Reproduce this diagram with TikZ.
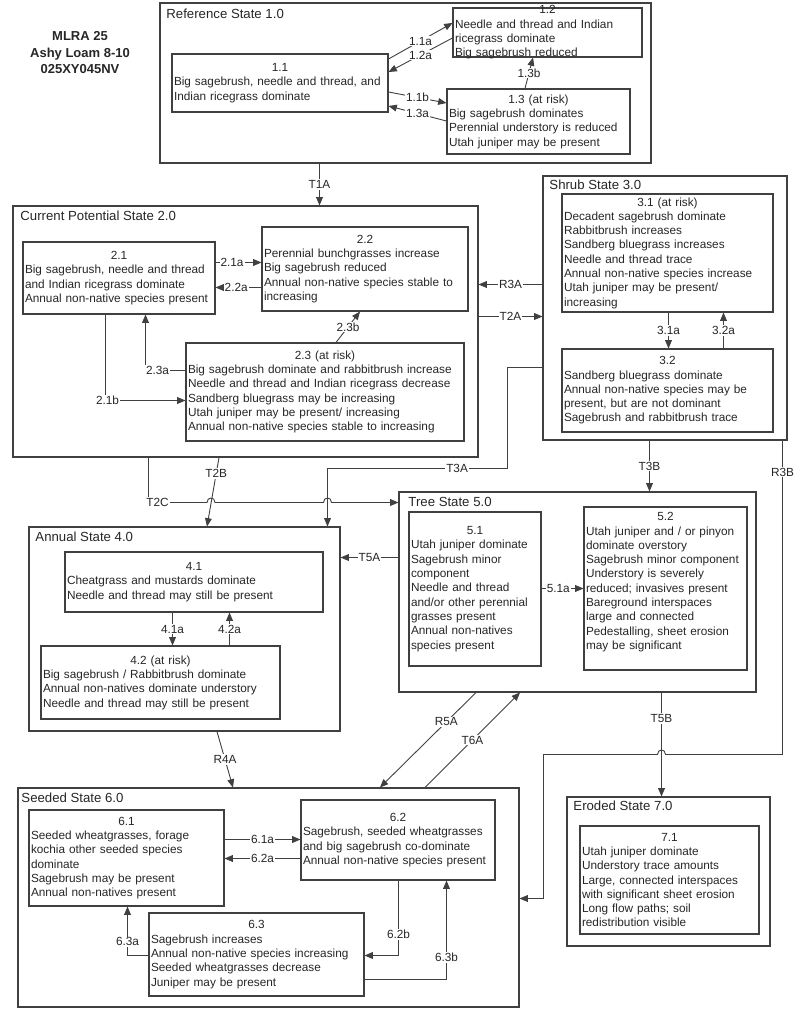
\documentclass[tikz,border=0pt]{standalone}
\usepackage{fontspec}
\setmainfont{Liberation Sans}
\usepackage{tikz}
\usetikzlibrary{
    arrows
}
\setlength{\parindent}{0pt}
\newcommand{\hd}[1]{{\centering #1\par}}

\begin{document}
\begin{tikzpicture}[x=1pt,y=-1pt,->,>=triangle 45,line width=0.9pt,black!75]
    \tikzstyle{stbox}=[draw, line width=1.1pt, inner sep=0pt]
    \tikzstyle{stlbl}=[anchor=west, inner sep=0pt, text=black!85, font=\fontsize{13.2}{15}\selectfont]
    \tikzstyle{sub}=[draw, line width=1.1pt, align=left, inner xsep=2pt, inner ysep=1pt, text=black!85, font=\fontsize{11.8}{14.3}\selectfont]
    \tikzstyle{lbl}=[fill=white, inner sep=1pt, text=black!85, font=\fontsize{11.8}{14}\selectfont]
    \useasboundingbox (0,0) rectangle (800,1009);

    \node[align=center, text=black!85, font=\bfseries\fontsize{13}{16.5}\selectfont] (head) at (80,53) {MLRA 25\\Ashy Loam 8-10\\025XY045NV};

    % states
    \node[stbox, minimum width=491pt, minimum height=160pt] (ref) at (405.5,83) {};
    \node[stlbl] (refl) at (166,14) {Reference State 1.0};
    \node[stbox, minimum width=465pt, minimum height=251pt] (cur) at (245.5,331.5) {};
    \node[stlbl] (curl) at (20,216) {Current Potential State 2.0};
    \node[stbox, minimum width=244pt, minimum height=264pt] (shrub) at (665,308) {};
    \node[stlbl] (shrubl) at (549,185) {Shrub State 3.0};
    \node[stbox, minimum width=311pt, minimum height=204pt] (annual) at (184.5,629) {};
    \node[stlbl] (annuall) at (35,537) {Annual State 4.0};
    \node[stbox, minimum width=357pt, minimum height=200pt] (tree) at (577.5,592) {};
    \node[stlbl] (treel) at (408,502) {Tree State 5.0};
    \node[stbox, minimum width=501pt, minimum height=219pt] (seeded) at (268.5,897.5) {};
    \node[stlbl] (seededl) at (21,798) {Seeded State 6.0};
    \node[stbox, minimum width=203pt, minimum height=149pt] (eroded) at (668.5,871.5) {};
    \node[stlbl] (erodedl) at (573,806) {Eroded State 7.0};

    % community phases
    \node[sub, text width=212pt, minimum height=58pt] (b11) at (280,83) {\hd{1.1}Big sagebrush, needle and thread, and\\Indian ricegrass dominate};
    \node[sub, text width=185pt, minimum height=49pt, inner ysep=-2.5pt] (b12) at (547.5,32.5) {\hd{1.2}Needle and thread and Indian\\ricegrass dominate\\Big sagebrush reduced};
    \node[sub, text width=179pt, minimum height=65pt] (b13) at (538.5,121.5) {\hd{1.3 (at risk)}Big sagebrush dominates\\Perennial understory is reduced\\Utah juniper may be present};
    \node[sub, text width=188pt, minimum height=72pt] (b21) at (119,278) {\hd{2.1}Big sagebrush, needle and thread\\and Indian ricegrass dominate\\Annual non-native species present};
    \node[sub, text width=202pt, minimum height=84pt] (b22) at (365,269) {\hd{2.2}Perennial bunchgrasses increase\\Big sagebrush reduced\\Annual non-native species stable to\\increasing};
    \node[sub, text width=274pt, minimum height=98pt] (b23) at (325,392) {\hd{2.3 (at risk)}Big sagebrush dominate and rabbitbrush increase\\Needle and thread and Indian ricegrass decrease\\Sandberg bluegrass may be increasing\\Utah juniper may be present/ increasing\\Annual non-native species stable to increasing};
    \node[sub, text width=207pt, minimum height=118pt] (b31) at (667.5,253) {\hd{3.1 (at risk)}Decadent sagebrush dominate\\Rabbitbrush increases\\Sandberg bluegrass increases\\Needle and thread trace\\Annual non-native species increase\\Utah juniper may be present/\\increasing};
    \node[sub, text width=207pt, minimum height=83pt] (b32) at (667.5,390.5) {\hd{3.2}Sandberg bluegrass dominate\\Annual non-native species may be\\present, but are not dominant\\Sagebrush and rabbitbrush trace};
    \node[sub, text width=254pt, minimum height=60pt] (b41) at (194,582) {\hd{4.1}Cheatgrass and mustards dominate\\Needle and thread may still be present};
    \node[sub, text width=235pt, minimum height=73pt] (b42) at (160.5,682.5) {\hd{4.2 (at risk)}Big sagebrush / Rabbitbrush dominate\\Annual non-natives dominate understory\\Needle and thread may still be present};
    \node[sub, text width=128pt, minimum height=154pt] (b51) at (475,589) {\hd{5.1}Utah juniper dominate\\Sagebrush minor\\component\\Needle and thread\\and/or other perennial\\grasses present\\Annual non-natives\\species present};
    \node[sub, minimum width=163pt, minimum height=163pt] (b52) at (665.5,588.5) {};
    \node[sub, draw=none, text width=159pt, anchor=north] (t52) at (665.5,511) {\hd{5.2}Utah juniper and / or pinyon\\dominate overstory\\Sagebrush minor component\\Understory is severely\\reduced; invasives present\\Bareground interspaces\\large and connected\\Pedestalling, sheet erosion\\may be significant};
    \node[sub, text width=191pt, minimum height=96pt] (b61) at (126.5,858) {\hd{6.1}Seeded wheatgrasses, forage\\kochia other seeded species\\dominate\\Sagebrush may be present\\Annual non-natives present};
    \node[sub, text width=190pt, minimum height=80pt] (b62) at (398,840) {\hd{6.2}Sagebrush, seeded wheatgrasses\\and big sagebrush co-dominate\\Annual non-native species present};
    \node[sub, text width=211pt, minimum height=83pt] (b63) at (256.5,954.5) {\hd{6.3}Sagebrush increases\\Annual non-native species increasing\\Seeded wheatgrasses decrease\\Juniper may be present};
    \node[sub, text width=175pt, minimum height=108pt] (b71) at (669.5,880) {\hd{7.1}Utah juniper dominate\\Understory trace amounts\\Large, connected interspaces\\with significant sheet erosion\\Long flow paths; soil\\redistribution visible};

    % pathways inside states
    \path (b11.east |- 0,59) edge node[lbl] {1.1a} (b12.west |- 0,23);
    \path (b12.west |- 0,38) edge node[lbl] {1.2a} (b11.east |- 0,72);
    \path (b11.east |- 0,92) edge node[lbl] {1.1b} (b13.west |- 0,103);
    \path (b13.west |- 0,121) edge node[lbl] {1.3a} (b11.east |- 0,106);
    \path (b13.north -| 525,0) edge node[lbl] {1.3b} (b12.south -| 533,0);
    \path (b21.east |- 0,262.5) edge node[lbl,pos=0.36] {2.1a} (b22.west |- 0,262.5);
    \path (b22.west |- 0,287.5) edge node[lbl,pos=0.55] {2.2a} (b21.east |- 0,287.5);
    \path (b23.north -| 336,0) edge node[lbl] {2.3b} (b22.south -| 360,0);
    \draw (b23.west |- 0,370.5) -| node[lbl,pos=0.35] {2.3a} (b21.south -| 145.5,0);
    \draw (b21.south -| 105.5,0) |- node[lbl,pos=0.5,xshift=2pt] {2.1b} (b23.west |- 0,400.5);
    \path (b31.south -| 668.5,0) edge node[lbl] {3.1a} (b32.north -| 668.5,0);
    \path (b32.north -| 723.5,0) edge node[lbl] {3.2a} (b31.south -| 723.5,0);
    \path (b41.south -| 172.5,0) edge node[lbl] {4.1a} (b42.north -| 172.5,0);
    \path (b42.north -| 229.5,0) edge node[lbl] {4.2a} (b41.south -| 229.5,0);
    \path (b51.east |- 0,588.5) edge node[lbl,pos=0.4] {5.1a} (b52.west |- 0,588.5);
    \path (b61.east |- 0,839.5) edge node[lbl] {6.1a} (b62.west |- 0,839.5);
    \path (b62.west |- 0,858.5) edge node[lbl] {6.2a} (b61.east |- 0,858.5);
    \draw (b62.south -| 398.5,0) |- node[lbl,pos=0.36] {6.2b} (b63.east |- 0,955.5);
    \draw (b63.east |- 0,979.5) -| node[lbl,pos=0.61] {6.3b} (b62.south -| 446.5,0);
    \draw (b63.west |- 0,955.5) -| node[lbl,pos=0.64] {6.3a} (b61.south -| 127.5,0);

    % transitions and restorations
    \path (ref.south -| 319.5,0) edge node[lbl] {T1A} (cur.north -| 319.5,0);
    \path (shrub.west |- 0,284.5) edge node[lbl] {R3A} (cur.east |- 0,284.5);
    \path (cur.east |- 0,316.5) edge node[lbl] {T2A} (shrub.west |- 0,316.5);
    \path (cur.south -| 219,0) edge node[lbl,pos=0.23] {T2B} (annual.north -| 207,0);
    \draw (cur.south -| 148.5,0) -- (148.5,502.5) node[lbl,xshift=9pt] {T2C} -- (207,502.5) .. controls (207,496.5) and (215,496.5) .. (215,502.5)
        -- (323.5,502.5) .. controls (323.5,496.5) and (331.5,496.5) .. (331.5,502.5) -- (tree.west |- 0,502.5);
    \draw (shrub.west |- 0,367.5) -- (507.5,367.5) -- (507.5,468.5) -- node[lbl,pos=0.28] {T3A} (327.5,468.5) -- (annual.north -| 327.5,0);
    \path (shrub.south -| 649.5,0) edge node[lbl] {T3B} (tree.north -| 649.5,0);
    \draw (shrub.south -| 782.5,0) -- node[lbl,pos=0.1] {R3B} (782.5,754.5) -- (665.5,754.5) .. controls (665.5,748.5) and (657.5,748.5) .. (657.5,754.5)
        -- (543.5,754.5) |- (seeded.east |- 0,898.5);
    \path (tree.west |- 0,557.5) edge node[lbl] {T5A} (annual.east |- 0,557.5);
    \path (tree.south -| 661.5,0) edge node[lbl,pos=0.25] {T5B} (eroded.north -| 661.5,0);
    \path (annual.south -| 217,0) edge node[lbl] {R4A} (seeded.north -| 233,0);
    \path (tree.south -| 476,0) edge node[lbl,pos=0.31] {R5A} (seeded.north -| 380,0);
    \path (seeded.north -| 425,0) edge node[lbl] {T6A} (tree.south -| 520,0);
\end{tikzpicture}
\end{document}
